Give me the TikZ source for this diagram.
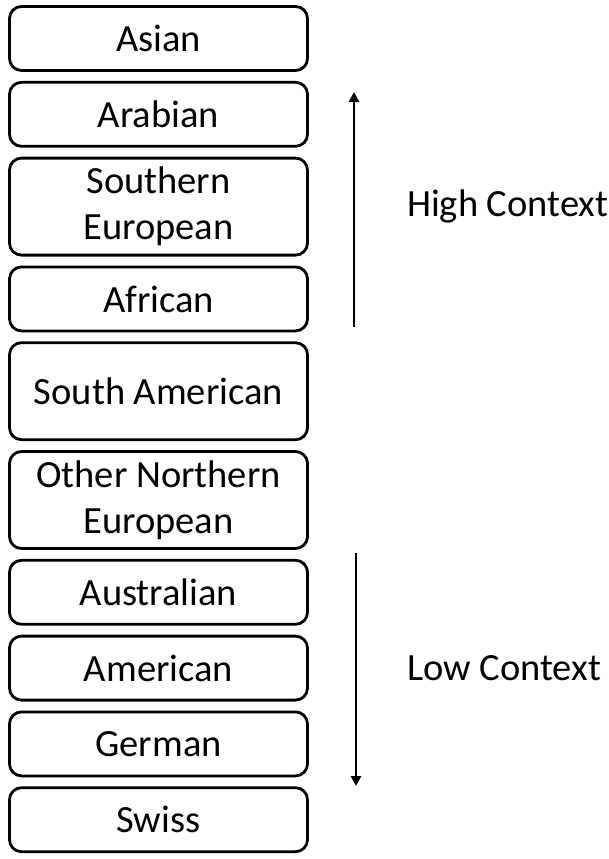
\documentclass[tikz,border=0pt]{standalone}
\usepackage{fontspec}
\setmainfont{Carlito}
\usetikzlibrary{positioning}
\usetikzlibrary{arrows.meta}

\tikzset{
  culture/.style={draw, line width=2.8pt, rounded corners=12pt,
    minimum width=298pt, minimum height=64pt, inner sep=0pt,
    align=center, font=\fontsize{38.5}{46}\selectfont},
  tall/.style={minimum height=97pt},
  scalelabel/.style={anchor=west, inner sep=0pt, font=\fontsize{38.5}{46}\selectfont},
  scalearrow/.style={line width=2.6pt, -{Triangle[width=10pt,length=10pt]}}
}

\begin{document}
\begin{tikzpicture}[x=1pt, y=1pt, node distance=9pt]
  \useasboundingbox (0,0) rectangle (609,-859);
  % the ranked boxes
  \node[culture] (asian) at (158.5,-38.5) {Asian};
  \node[culture, below=of asian] (arab) {Arabian};
  \node[culture, tall, below=of arab] (seur) {Southern\\European};
  \node[culture, below=of seur] (afr) {African};
  \node[culture, tall, below=of afr] (sam) {South American};
  \node[culture, tall, below=of sam] (neur) {Other Northern\\European};
  \node[culture, below=of neur] (aus) {Australian};
  \node[culture, below=of aus] (usa) {American};
  \node[culture, below=of usa] (ger) {German};
  \node[culture, below=of ger] (swiss) {Swiss};
  % the two ends of the scale
  \node[scalelabel, right=98pt of seur] (high) {High Context};
  \node[scalelabel, right=98pt of usa] (low) {Low Context};
  \coordinate (hibot) at (354,-327);
  \coordinate (hitop) at (354,-92);
  \coordinate (lotop) at (356,-553);
  \coordinate (lobot) at (356,-786);
  \draw[scalearrow] (hibot) -- (hitop);
  \draw[scalearrow] (lotop) -- (lobot);
\end{tikzpicture}
\end{document}
